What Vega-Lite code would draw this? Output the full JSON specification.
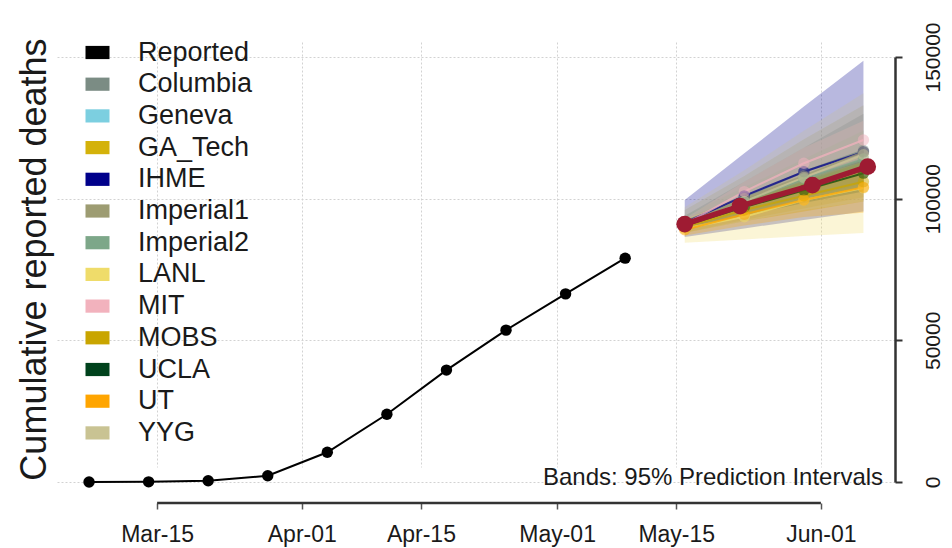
{
  "$schema": "https://vega.github.io/schema/vega-lite/v6.json",
  "width": 840,
  "height": 470,
  "autosize": {"type": "none"},
  "padding": {"left": 55, "top": 27, "right": 57, "bottom": 51},
  "background": "white",
  "config": {
    "view": {"stroke": null},
    "font": "Liberation Sans",
    "legend": {
      "orient": "none",
      "legendX": 29,
      "legendY": 12,
      "title": null,
      "symbolType": "M-1,-0.55L1,-0.55L1,0.55L-1,0.55Z",
      "symbolSize": 576,
      "symbolOpacity": 1,
      "symbolStrokeWidth": 0,
      "labelFontSize": 27,
      "labelColor": "#1a1a1a",
      "labelOffset": 27,
      "rowPadding": 3.7,
      "padding": 0,
      "labelLimit": 300
    }
  },
  "datasets": {
    "reported": [
      {"date": "2020-03-07", "deaths": 20},
      {"date": "2020-03-14", "deaths": 60},
      {"date": "2020-03-21", "deaths": 450},
      {"date": "2020-03-28", "deaths": 2200},
      {"date": "2020-04-04", "deaths": 10500},
      {"date": "2020-04-11", "deaths": 23900},
      {"date": "2020-04-18", "deaths": 39500},
      {"date": "2020-04-25", "deaths": 53600},
      {"date": "2020-05-02", "deaths": 66400},
      {"date": "2020-05-09", "deaths": 79000}
    ],
    "ensemble": [
      {"date": "2020-05-16T00:00:00Z", "deaths": 91000},
      {"date": "2020-05-22T12:00:00Z", "deaths": 97400},
      {"date": "2020-05-31T00:00:00Z", "deaths": 104800},
      {"date": "2020-06-06T12:00:00Z", "deaths": 111300}
    ],
    "models": [
      {"model": "Columbia", "date": "2020-05-16", "lo": 88500, "median": 91000, "hi": 94000},
      {"model": "Columbia", "date": "2020-05-23", "lo": 95000, "median": 100500, "hi": 106000},
      {"model": "Columbia", "date": "2020-05-30", "lo": 100500, "median": 109500, "hi": 118000},
      {"model": "Columbia", "date": "2020-06-06", "lo": 105000, "median": 117000, "hi": 130000},
      {"model": "Geneva", "date": "2020-05-16", "lo": 89000, "median": 90500, "hi": 92000},
      {"model": "Geneva", "date": "2020-05-23", "lo": 95500, "median": 97500, "hi": 99500},
      {"model": "GA_Tech", "date": "2020-05-16", "lo": 88000, "median": 90500, "hi": 93000},
      {"model": "GA_Tech", "date": "2020-05-23", "lo": 92500, "median": 97000, "hi": 101000},
      {"model": "GA_Tech", "date": "2020-05-30", "lo": 96500, "median": 103000, "hi": 109000},
      {"model": "GA_Tech", "date": "2020-06-06", "lo": 100500, "median": 109000, "hi": 117000},
      {"model": "IHME", "date": "2020-05-16", "lo": 86500, "median": 91500, "hi": 99500},
      {"model": "IHME", "date": "2020-05-23", "lo": 89500, "median": 101000, "hi": 116000},
      {"model": "IHME", "date": "2020-05-30", "lo": 92500, "median": 109500, "hi": 132500},
      {"model": "IHME", "date": "2020-06-06", "lo": 95500, "median": 116500, "hi": 148700},
      {"model": "Imperial1", "date": "2020-05-16", "lo": 89000, "median": 91000, "hi": 96000},
      {"model": "Imperial1", "date": "2020-05-23", "lo": 94000, "median": 100000, "hi": 108000},
      {"model": "Imperial1", "date": "2020-05-30", "lo": 99000, "median": 108000, "hi": 121000},
      {"model": "Imperial1", "date": "2020-06-06", "lo": 104000, "median": 116500, "hi": 133000},
      {"model": "Imperial2", "date": "2020-05-16", "lo": 89000, "median": 91000, "hi": 94000},
      {"model": "Imperial2", "date": "2020-05-23", "lo": 94000, "median": 99000, "hi": 104000},
      {"model": "Imperial2", "date": "2020-05-30", "lo": 99000, "median": 107000, "hi": 114000},
      {"model": "Imperial2", "date": "2020-06-06", "lo": 103000, "median": 114000, "hi": 124000},
      {"model": "LANL", "date": "2020-05-16", "lo": 84400, "median": 89500, "hi": 93000},
      {"model": "LANL", "date": "2020-05-23", "lo": 85600, "median": 93600, "hi": 100000},
      {"model": "LANL", "date": "2020-05-30", "lo": 86800, "median": 99500, "hi": 107000},
      {"model": "LANL", "date": "2020-06-06", "lo": 87900, "median": 103800, "hi": 113000},
      {"model": "MIT", "date": "2020-05-16", "lo": 89500, "median": 91000, "hi": 93000},
      {"model": "MIT", "date": "2020-05-23", "lo": 98500, "median": 102500, "hi": 106000},
      {"model": "MIT", "date": "2020-05-30", "lo": 106500, "median": 112500, "hi": 118000},
      {"model": "MIT", "date": "2020-06-06", "lo": 113500, "median": 120700, "hi": 127500},
      {"model": "MOBS", "date": "2020-05-16", "lo": 88000, "median": 90000, "hi": 92000},
      {"model": "MOBS", "date": "2020-05-23", "lo": 92000, "median": 96000, "hi": 99500},
      {"model": "MOBS", "date": "2020-05-30", "lo": 95500, "median": 101000, "hi": 106000},
      {"model": "MOBS", "date": "2020-06-06", "lo": 99000, "median": 106000, "hi": 113000},
      {"model": "UCLA", "date": "2020-05-16", "lo": 89000, "median": 90500, "hi": 92500},
      {"model": "UCLA", "date": "2020-05-23", "lo": 94000, "median": 97000, "hi": 100000},
      {"model": "UCLA", "date": "2020-05-30", "lo": 98500, "median": 103000, "hi": 107000},
      {"model": "UCLA", "date": "2020-06-06", "lo": 102500, "median": 109000, "hi": 114000},
      {"model": "UT", "date": "2020-05-16", "lo": 87000, "median": 89000, "hi": 91500},
      {"model": "UT", "date": "2020-05-23", "lo": 90500, "median": 94500, "hi": 98500},
      {"model": "UT", "date": "2020-05-30", "lo": 93500, "median": 99500, "hi": 105000},
      {"model": "UT", "date": "2020-06-06", "lo": 95000, "median": 104000, "hi": 111000},
      {"model": "YYG", "date": "2020-05-16", "lo": 88000, "median": 90500, "hi": 97000},
      {"model": "YYG", "date": "2020-05-23", "lo": 92000, "median": 99000, "hi": 110000},
      {"model": "YYG", "date": "2020-05-30", "lo": 96000, "median": 107500, "hi": 124000},
      {"model": "YYG", "date": "2020-06-06", "lo": 99000, "median": 115500, "hi": 137200}
    ],
    "note": [{"note": "Bands: 95% Prediction Intervals"}],
    "frame": [{"part": "axes"}]
  },
  "resolve": {"axis": {"y": "independent"}},
  "layer": [
    {
      "data": {"name": "models"},
      "mark": {"type": "area", "opacity": 0.28},
      "encoding": {
        "x": {"field": "date", "type": "temporal", "scale": {"type": "utc", "nice": false, "domain": [1583193600000, 1591722000000]},
          "axis": {"values": [1584230400000, 1585699200000, 1586908800000, 1588291200000, 1589500800000, 1590969600000], "format": "%b-%d", "title": null, "domain": false, "offset": 6, "tickSize": 6, "tickColor": "#555555", "tickWidth": 1.5, "labelFontSize": 23, "labelColor": "#1a1a1a", "labelPadding": 14, "labelFlush": false, "labelOverlap": false, "grid": true, "gridColor": "#d2d2d2", "gridDash": [2, 2]}},
        "y": {"field": "lo", "type": "quantitative", "stack": null, "scale": {"domain": [0, 150000], "range": [455, 30], "nice": false, "zero": false}, "axis": null},
        "y2": {"field": "hi"},
        "color": {
          "field": "model",
          "type": "nominal",
          "scale": {
            "domain": ["Reported", "Columbia", "Geneva", "GA_Tech", "IHME", "Imperial1", "Imperial2", "LANL", "MIT", "MOBS", "UCLA", "UT", "YYG"],
            "range": ["#000000", "#7b8c84", "#7ccfe0", "#d4b20a", "#00008b", "#9d9c72", "#7da789", "#efdc6a", "#f2b2bd", "#c9a500", "#00421c", "#ffa500", "#c9c393"]
          },
          "legend": {"values": ["Reported", "Columbia", "Geneva", "GA_Tech", "IHME", "Imperial1", "Imperial2", "LANL", "MIT", "MOBS", "UCLA", "UT", "YYG"]}
        }
      }
    },
    {
      "data": {"name": "models"},
      "mark": {"type": "line", "strokeWidth": 2, "opacity": 0.75},
      "encoding": {
        "x": {"field": "date", "type": "temporal", "scale": {"type": "utc", "nice": false, "domain": [1583193600000, 1591722000000]},
          "axis": {"values": [1584230400000, 1585699200000, 1586908800000, 1588291200000, 1589500800000, 1590969600000], "format": "%b-%d", "title": null, "domain": false, "offset": 6, "tickSize": 6, "tickColor": "#555555", "tickWidth": 1.5, "labelFontSize": 23, "labelColor": "#1a1a1a", "labelPadding": 14, "labelFlush": false, "labelOverlap": false, "grid": true, "gridColor": "#d2d2d2", "gridDash": [2, 2]}},
        "y": {"field": "median", "type": "quantitative", "scale": {"domain": [0, 150000], "range": [455, 30], "nice": false, "zero": false}, "axis": null},
        "color": {"field": "model", "type": "nominal", "legend": null}
      }
    },
    {
      "data": {"name": "models"},
      "mark": {"type": "circle", "size": 130, "opacity": 0.5},
      "encoding": {
        "x": {"field": "date", "type": "temporal", "scale": {"type": "utc", "nice": false, "domain": [1583193600000, 1591722000000]},
          "axis": {"values": [1584230400000, 1585699200000, 1586908800000, 1588291200000, 1589500800000, 1590969600000], "format": "%b-%d", "title": null, "domain": false, "offset": 6, "tickSize": 6, "tickColor": "#555555", "tickWidth": 1.5, "labelFontSize": 23, "labelColor": "#1a1a1a", "labelPadding": 14, "labelFlush": false, "labelOverlap": false, "grid": true, "gridColor": "#d2d2d2", "gridDash": [2, 2]}},
        "y": {"field": "median", "type": "quantitative", "scale": {"domain": [0, 150000], "range": [455, 30], "nice": false, "zero": false}, "axis": null},
        "color": {"field": "model", "type": "nominal", "legend": null}
      }
    },
    {
      "data": {"name": "reported"},
      "mark": {"type": "line", "color": "#000000", "strokeWidth": 2},
      "encoding": {
        "x": {"field": "date", "type": "temporal", "scale": {"type": "utc", "nice": false, "domain": [1583193600000, 1591722000000]},
          "axis": {"values": [1584230400000, 1585699200000, 1586908800000, 1588291200000, 1589500800000, 1590969600000], "format": "%b-%d", "title": null, "domain": false, "offset": 6, "tickSize": 6, "tickColor": "#555555", "tickWidth": 1.5, "labelFontSize": 23, "labelColor": "#1a1a1a", "labelPadding": 14, "labelFlush": false, "labelOverlap": false, "grid": true, "gridColor": "#d2d2d2", "gridDash": [2, 2]}},
        "y": {
          "field": "deaths",
          "type": "quantitative",
          "scale": {"domain": [0, 150000], "range": [455, 30], "nice": false, "zero": false},
          "axis": {
            "orient": "left",
            "title": "Cumulative reported deaths",
            "titleFontSize": 36,
            "titleFontWeight": "normal",
            "titleColor": "#1a1a1a",
            "titlePadding": 2,
            "titleY": 232,
            "labels": false,
            "ticks": false,
            "domain": false,
            "grid": false
          }
        }
      }
    },
    {
      "data": {"name": "reported"},
      "mark": {"type": "circle", "color": "#000000", "size": 130, "opacity": 1},
      "encoding": {
        "x": {"field": "date", "type": "temporal", "scale": {"type": "utc", "nice": false, "domain": [1583193600000, 1591722000000]},
          "axis": {"values": [1584230400000, 1585699200000, 1586908800000, 1588291200000, 1589500800000, 1590969600000], "format": "%b-%d", "title": null, "domain": false, "offset": 6, "tickSize": 6, "tickColor": "#555555", "tickWidth": 1.5, "labelFontSize": 23, "labelColor": "#1a1a1a", "labelPadding": 14, "labelFlush": false, "labelOverlap": false, "grid": true, "gridColor": "#d2d2d2", "gridDash": [2, 2]}},
        "y": {
          "field": "deaths",
          "type": "quantitative",
          "scale": {"domain": [0, 150000], "range": [455, 30], "nice": false, "zero": false},
          "axis": {
            "orient": "right",
            "title": null,
            "values": [0, 50000, 100000, 150000],
            "format": "d",
            "labelAngle": -90,
            "labelAlign": "center",
            "labelBaseline": "top",
            "labelFontSize": 21,
            "labelColor": "#1a1a1a",
            "labelPadding": 20,
            "labelFlush": false,
            "labelOverlap": false,
            "tickSize": 7,
            "tickColor": "#333333",
            "tickWidth": 2,
            "domain": true,
            "domainColor": "#333333",
            "domainWidth": 2.5,
            "grid": true,
            "gridColor": "#d2d2d2",
            "gridDash": [2, 2]
          }
        }
      }
    },
    {
      "data": {"name": "ensemble"},
      "mark": {"type": "line", "color": "#9e1b32", "strokeWidth": 5.5},
      "encoding": {
        "x": {"field": "date", "type": "temporal", "scale": {"type": "utc", "nice": false, "domain": [1583193600000, 1591722000000]},
          "axis": {"values": [1584230400000, 1585699200000, 1586908800000, 1588291200000, 1589500800000, 1590969600000], "format": "%b-%d", "title": null, "domain": false, "offset": 6, "tickSize": 6, "tickColor": "#555555", "tickWidth": 1.5, "labelFontSize": 23, "labelColor": "#1a1a1a", "labelPadding": 14, "labelFlush": false, "labelOverlap": false, "grid": true, "gridColor": "#d2d2d2", "gridDash": [2, 2]}},
        "y": {"field": "deaths", "type": "quantitative", "scale": {"domain": [0, 150000], "range": [455, 30], "nice": false, "zero": false}, "axis": null}
      }
    },
    {
      "data": {"name": "ensemble"},
      "mark": {"type": "circle", "color": "#9e1b32", "size": 280, "opacity": 1},
      "encoding": {
        "x": {"field": "date", "type": "temporal", "scale": {"type": "utc", "nice": false, "domain": [1583193600000, 1591722000000]},
          "axis": {"values": [1584230400000, 1585699200000, 1586908800000, 1588291200000, 1589500800000, 1590969600000], "format": "%b-%d", "title": null, "domain": false, "offset": 6, "tickSize": 6, "tickColor": "#555555", "tickWidth": 1.5, "labelFontSize": 23, "labelColor": "#1a1a1a", "labelPadding": 14, "labelFlush": false, "labelOverlap": false, "grid": true, "gridColor": "#d2d2d2", "gridDash": [2, 2]}},
        "y": {"field": "deaths", "type": "quantitative", "scale": {"domain": [0, 150000], "range": [455, 30], "nice": false, "zero": false}, "axis": null}
      }
    },
    {
      "data": {"name": "frame"},
      "mark": {"type": "rule", "color": "#333333", "strokeWidth": 2.5},
      "encoding": {
        "x": {"datum": 1584230400000, "type": "temporal"},
        "x2": {"datum": 1590969600000},
        "y": {"datum": -7400, "type": "quantitative", "axis": null}
      }
    },
    {
      "data": {"name": "note"},
      "mark": {"type": "text", "align": "right", "baseline": "middle", "fontSize": 24, "color": "#1a1a1a"},
      "encoding": {
        "x": {"datum": 1591601400000, "type": "temporal"},
        "y": {"datum": 1400, "type": "quantitative", "axis": null},
        "text": {"field": "note", "type": "nominal"}
      }
    }
  ]
}
